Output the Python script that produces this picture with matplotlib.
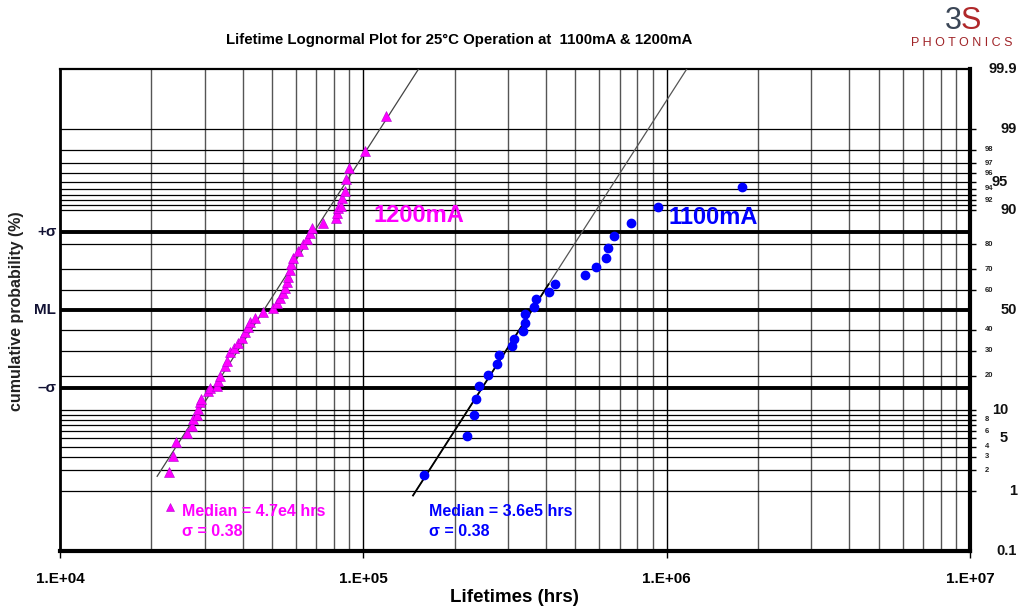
import math
import numpy as np
import matplotlib
matplotlib.use('Agg')
import matplotlib.pyplot as plt

plt.rcParams['font.family'] = ['Liberation Sans', 'DejaVu Sans']

# 1200mA failures: lifetime (hrs) and cumulative probability (%)
hrs_1200 = [2.29e4, 2.36e4, 2.41e4, 2.63e4, 2.73e4, 2.75e4, 2.83e4, 2.85e4, 2.90e4, 2.92e4,
            3.08e4, 3.13e4, 3.30e4, 3.32e4, 3.37e4, 3.50e4, 3.56e4, 3.64e4, 3.75e4, 3.87e4,
            3.99e4, 4.08e4, 4.17e4, 4.24e4, 4.40e4, 4.68e4, 5.05e4, 5.20e4, 5.32e4, 5.45e4,
            5.53e4, 5.61e4, 5.65e4, 5.74e4, 5.79e4, 5.87e4, 6.10e4, 6.34e4, 6.54e4, 6.69e4,
            6.79e4, 7.38e4, 8.15e4, 8.21e4, 8.27e4, 8.46e4, 8.52e4, 8.72e4, 8.79e4, 8.99e4,
            1.01e5, 1.19e5]
pct_1200 = [1.9, 3.1, 4.5, 5.8, 6.9, 8.2, 9.0, 10.3, 12.0, 12.7,
            15.0, 15.9, 16.5, 18.1, 19.8, 23.5, 25.5, 29.3, 31.5, 33.8,
            36.2, 39.0, 41.5, 44.0, 46.0, 49.0, 51.0, 53.5, 56.0, 58.5,
            61.0, 63.8, 66.2, 69.4, 72.4, 74.9, 77.6, 80.2, 81.9, 83.8,
            85.3, 86.7, 88.0, 89.3, 90.4, 90.8, 92.4, 93.7, 95.3, 96.6,
            97.9, 99.35]

# 1100mA failures
hrs_1100 = [1.58e5, 2.20e5, 2.31e5, 2.36e5, 2.41e5, 2.58e5, 2.75e5, 2.81e5, 3.10e5, 3.13e5,
            3.35e5, 3.40e5, 3.42e5, 3.64e5, 3.70e5, 4.08e5, 4.27e5, 5.40e5, 5.83e5, 6.29e5,
            6.39e5, 6.69e5, 7.61e5, 9.34e5, 1.77e6]
pct_1100 = [1.7, 5.3, 9.0, 12.7, 16.5, 20.2, 24.3, 28.0, 32.0, 35.7,
            39.5, 43.5, 48.0, 51.5, 55.5, 59.0, 62.9, 67.1, 71.1, 74.9,
            78.7, 82.9, 86.7, 90.6, 94.3]

median_1200, median_1100 = 4.7e4, 3.6e5
sigma = 0.38
fit_start_1200, fit_start_1100 = 1.65, 0.87   # lowest % of each fit line

grid_pct = [1, 2, 3, 4, 5, 6, 7, 8, 9, 10, 20, 30, 40, 60, 70, 80,
            90, 91, 92, 93, 94, 95, 96, 97, 98, 99]
big_labels = ['99.9', '99', '95', '90', '50', '10', '5', '1', '0.1']
small_labels = ['98', '97', '96', '94', '92', '80', '70', '60', '40', '30', '20',
                '8', '6', '4', '3', '2']
x_ticks = [1e4, 1e5, 1e6, 1e7]
x_labels = ['1.E+04', '1.E+05', '1.E+06', '1.E+07']

_erf = np.vectorize(math.erf)

def z(p):
    # percent -> standard normal quantile (bisection)
    p = np.atleast_1d(np.asarray(p, float)) / 100.0
    lo = np.full(p.shape, -8.0)
    hi = np.full(p.shape, 8.0)
    for _ in range(60):
        mid = (lo + hi) / 2
        cdf = 0.5 * (1 + _erf(mid / math.sqrt(2)))
        lo = np.where(cdf < p, mid, lo)
        hi = np.where(cdf < p, hi, mid)
    return (lo + hi) / 2

zmax = z(99.9)[0]

fig = plt.figure(figsize=(10.22, 6.07), dpi=100)
W, H = 1022, 607
ax = fig.add_axes([60 / W, 1 - 551 / H, 910 / W, 482 / H])
ax.set_xscale('log')
ax.set_xlim(1e4, 1e7)
ax.set_ylim(-zmax, zmax)

# grid
for dec in [1e4, 1e5, 1e6]:
    for k in range(2, 10):
        ax.axvline(k * dec, color='#555555', lw=1.0, zorder=1)
for v in [1e5, 1e6]:
    ax.axvline(v, color='black', lw=1.0, zorder=1)
for p in grid_pct:
    ax.axhline(z(p)[0], color='black', lw=0.9, zorder=1)
for zz in [-1, 0, 1]:
    ax.axhline(zz, color='black', lw=2.8, zorder=2)

# fit lines
zl = np.linspace(z(fit_start_1200)[0], zmax, 50)
ax.plot(median_1200 * np.exp(sigma * zl), zl, color='#444444', lw=0.9, zorder=3)
zl = np.linspace(z(fit_start_1100)[0], zmax, 50)
ax.plot(median_1100 * np.exp(sigma * zl), zl, color='#555555', lw=0.9, zorder=3)
zl = np.linspace(z(fit_start_1100)[0], z(max(pct_1100[:17]))[0], 50)
ax.plot(median_1100 * np.exp(sigma * zl), zl, color='black', lw=1.3, zorder=3)

# data
ax.plot(hrs_1200, z(pct_1200), ls='none', marker='^', ms=6.5, color='#ff00ff',
        mec='#b000d0', mew=0.4, zorder=4)
ax.plot(hrs_1100, z(pct_1100), ls='none', marker='o', ms=6, color='#0000ff',
        mec='#0000ff', zorder=4)

# frame
for side, lw in [('left', 2.0), ('bottom', 3.0), ('right', 3.0), ('top', 1.6)]:
    ax.spines[side].set_linewidth(lw)

ax.set_xticks(x_ticks, x_labels)
ax.xaxis.set_minor_locator(matplotlib.ticker.NullLocator())
ax.tick_params(axis='x', length=5, width=1, direction='out', pad=10, labelsize=11)
for t in ax.get_xticklabels():
    t.set_fontweight('bold')
ax.yaxis.tick_right()
ax.set_yticks(z(grid_pct), [''] * len(grid_pct))
ax.tick_params(axis='y', length=4, width=1, direction='out')

# right-hand probability labels
yt = ax.get_yaxis_transform()
for lab in big_labels:
    xr = 1008 if lab in ('95', '10', '5') else 1017
    ax.text((xr - 60) / 910, z(float(lab))[0], lab, transform=yt, ha='right', va='center',
            fontsize=10.5, fontweight='bold', color='#111111')
for lab in small_labels:
    ax.text((985 - 60) / 910, z(float(lab))[0], lab, transform=yt, ha='left', va='center',
            fontsize=5.5, fontweight='bold', color='#222222')

# left labels
for zz, lab in [(1, '+σ'), (0, 'ML'), (-1, '–σ')]:
    ax.text(-0.004, zz, lab, transform=yt, ha='right', va='center',
            fontsize=11, fontweight='bold', color='#111133')

# series names and fit results
ax.text((373 - 60) / 910, (551 - 215) / 482, '1200mA', transform=ax.transAxes,
        color='#ff00ff', fontsize=17, fontweight='bold', va='center')
ax.text((668 - 60) / 910, (551 - 217) / 482, '1100mA', transform=ax.transAxes,
        color='#0000ff', fontsize=17, fontweight='bold', va='center')
ax.plot([(170 - 60) / 910], [(551 - 507) / 482], transform=ax.transAxes, marker='^',
        ms=6, color='#ff00ff', mec='#b000d0', mew=0.4, clip_on=False)
ax.text((182 - 60) / 910, (551 - 512) / 482, 'Median = 4.7e4 hrs', transform=ax.transAxes,
        color='#ff00ff', fontsize=11.5, fontweight='bold', va='center')
ax.text((182 - 60) / 910, (551 - 532) / 482, 'σ = 0.38', transform=ax.transAxes,
        color='#ff00ff', fontsize=11.5, fontweight='bold', va='center')
ax.text((429 - 60) / 910, (551 - 512) / 482, 'Median = 3.6e5 hrs', transform=ax.transAxes,
        color='#0000ff', fontsize=11.5, fontweight='bold', va='center')
ax.text((429 - 60) / 910, (551 - 532) / 482, 'σ = 0.38', transform=ax.transAxes,
        color='#0000ff', fontsize=11.5, fontweight='bold', va='center')

# titles
fig.text(459 / W, 1 - 40 / H, 'Lifetime Lognormal Plot for 25\u00b0C Operation at  1100mA & 1200mA',
         ha='center', va='center', fontsize=10.8, fontweight='bold')
fig.text(514 / W, 1 - 597 / H, 'Lifetimes (hrs)', ha='center', va='center',
         fontsize=13.5, fontweight='bold')
fig.text(17 / W, 1 - 311 / H, 'cumulative probability (%)', ha='center', va='center',
         rotation=90, fontsize=11.5, fontweight='bold', color='#222222')

# logo
fig.text(962 / W, 1 - 21 / H, '3', ha='right', va='center', fontsize=22, color='#3b4656')
fig.text(961 / W, 1 - 21 / H, 'S', ha='left', va='center', fontsize=22, color='#b0282a')
fig.text(962 / W, 1 - 43 / H, 'P H O T O N I C S', ha='center', va='center',
         fontsize=9, color='#a02428')

fig.savefig('out.png', dpi=100)
